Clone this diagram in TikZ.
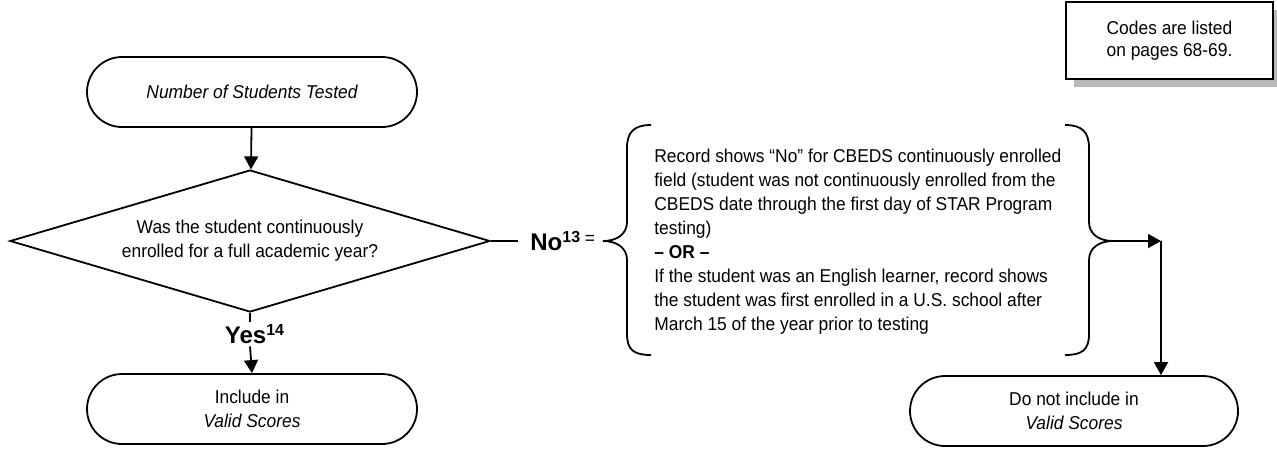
\documentclass[tikz,border=0pt]{standalone}
\usepackage{fontspec}
\setmainfont{Liberation Sans}
\newfontfamily\narrowfont{Liberation Sans}[FakeStretch=0.935]
\usetikzlibrary{shapes.geometric,shapes.misc,arrows.meta,shadows}
\newcommand{\bodysize}{\narrowfont\fontsize{9.3pt}{12pt}\selectfont}
\newcommand{\labsize}{\fontsize{12pt}{14pt}\selectfont\bfseries}
\begin{document}
\begin{tikzpicture}[
  x=0.5pt, y=-0.5pt,
  term/.style={rounded rectangle,draw,line width=0.9pt,minimum width=165pt,minimum height=35pt,inner sep=0pt,align=center,font=\bodysize},
  dec/.style={diamond,draw,line width=0.9pt,aspect=3.4,minimum width=240pt,minimum height=71pt,inner sep=0pt,align=center,font=\bodysize},
  note/.style={rectangle,draw,line width=1.1pt,fill=white,minimum width=103.5pt,minimum height=38.5pt,align=center,
    font=\narrowfont\fontsize{9.3pt}{11pt}\selectfont,drop shadow={shadow xshift=4pt,shadow yshift=-4pt,fill=gray!55,opacity=1}},
  arr/.style={line width=0.9pt,-{Triangle[length=6.5pt,width=7pt]}},
  ln/.style={line width=0.9pt},
  lbl/.style={font=\labsize,inner sep=1pt},
]
  \useasboundingbox (0,0) rectangle (1277,452);

  % left column
  \node[term] (start) at (252,92) {\itshape Number of Students Tested};
  \node[dec] (cont) at (250,241) {Was the student continuously\\enrolled for a full academic year?};
  \node[lbl] (yes) at (255,334) {Yes\textsuperscript{14}};
  \node[term] (incl) at (252,409) {Include in\\\itshape Valid Scores};

  \draw[arr] (start) -- (cont);
  \draw[ln] (cont.south) -- (cont.south |- yes.north);
  \draw[arr] (cont.south |- yes.south) -- (incl.north);

  % the No branch
  \node[lbl,anchor=west] (no) at (528,241) {No\textsuperscript{13}};
  \node[font=\bodysize,inner sep=0pt] (eq) at (590,240) {=};
  \draw[ln] (cont.east) -- ([xshift=-5pt]no.west);

  % braces round the reasons
  \coordinate (lbt) at (603,241);
  \coordinate (rbt) at (1113,241);
  \draw[ln] (651,125) .. controls (634,125) and (627,132) .. (627,148) -- (627,222)
    .. controls (627,234) and (617,241) .. (lbt)
    .. controls (617,241) and (627,248) .. (627,260) -- (627,334)
    .. controls (627,350) and (634,355) .. (651,355);
  \draw[ln] (1065,125) .. controls (1082,125) and (1089,132) .. (1089,148) -- (1089,222)
    .. controls (1089,234) and (1099,241) .. (rbt)
    .. controls (1099,241) and (1089,248) .. (1089,260) -- (1089,334)
    .. controls (1089,350) and (1082,355) .. (1065,355);

  \node[anchor=west,align=left,inner sep=0pt,font=\bodysize] (why) at (654,242)
    {Record shows “No” for CBEDS continuously enrolled\\
     field (student was not continuously enrolled from the\\
     CBEDS date through the first day of STAR Program\\
     testing)\\
     \textbf{– OR –}\\
     If the student was an English learner, record shows\\
     the student was first enrolled in a U.S. school after\\
     March 15 of the year prior to testing};

  % right column
  \node[term,minimum width=164pt] (excl) at (1074,411) {Do not include in\\\itshape Valid Scores};
  \coordinate (turn) at (1161,241);
  \draw[arr] (rbt) -- (turn);
  \draw[arr] (turn) -- (turn |- excl.north);

  % note
  \node[note] (codes) at (1169.5,40.5) {Codes are listed\\on pages 68-69.};
\end{tikzpicture}
\end{document}
